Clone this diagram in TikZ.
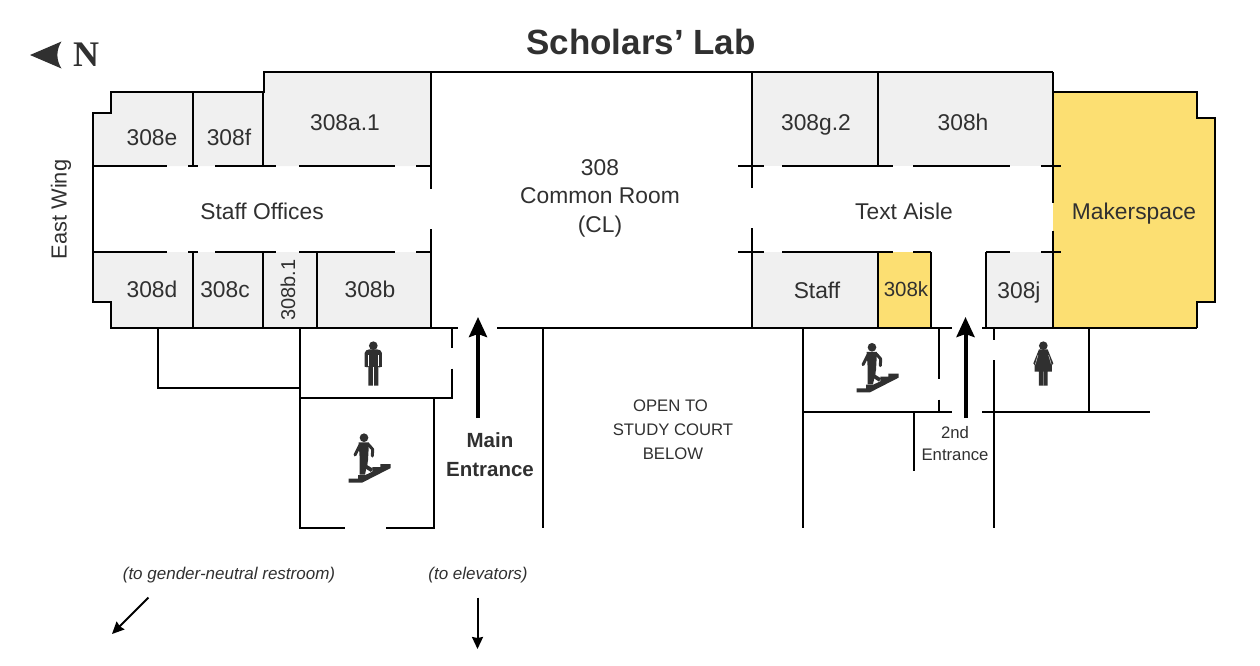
\documentclass[tikz,border=0pt]{standalone}
\usepackage{fontspec}
\setmainfont{Liberation Sans}
\newfontfamily\nfont{Liberation Serif}
\usetikzlibrary{arrows.meta}
\definecolor{ink}{HTML}{303030}
\definecolor{roomgray}{HTML}{F0F0F0}
\definecolor{maker}{HTML}{FCDF72}
\tikzset{
  wall/.style={line width=2.3pt,draw=black,line join=miter},
  thinwall/.style={line width=2pt,draw=black,line join=miter},
  lbl/.style={anchor=base,inner sep=0pt,text=ink,font=\fontsize{22.8}{22.8}\selectfont},
  small/.style={lbl,font=\fontsize{16.7}{16.7}\selectfont},
  ital/.style={lbl,font=\itshape\fontsize{17}{17}\selectfont},
  bigarrow/.style={line width=4pt,draw=black,-{Stealth[length=20pt,width=18pt,inset=3pt]}},
  smallarrow/.style={line width=2pt,draw=black,-{Stealth[length=12pt,width=11pt,inset=1pt]}},
}
\newcommand{\maniconat}[2]{%
  \begin{scope}[shift={(#1,#2)},x=0.3333pt,y=-0.3333pt]
    \fill[ink] (0,0) circle (13);
    \fill[ink] (-26,22) to[out=80,in=180] (-12,11) -- (12,11) to[out=0,in=100] (26,22) -- (26,63) -- (18,65) -- (15,62) -- (15,120) -- (-15,120) -- (-15,62) -- (-18,65) -- (-26,63) -- cycle;
    \draw[white,line width=0.35pt] (0,65) -- (0,120) (-15,28) -- (-15,62) (15,28) -- (15,62);
  \end{scope}}
\newcommand{\womaniconat}[2]{%
  \begin{scope}[shift={(#1,#2)},x=0.3333pt,y=-0.3333pt]
    \fill[ink] (0,0) circle (13);
    \fill[ink] (-13,11) -- (13,11) -- (30,53) -- (26,58) -- (26,78) -- (13,78) -- (13,120) -- (-13,120) -- (-13,78) -- (-26,78) -- (-26,58) -- (-30,53) -- cycle;
    \draw[white,line width=0.35pt] (0,78) -- (0,120) (-16,28) -- (-24,56) (16,28) -- (24,56);
  \end{scope}}
\newcommand{\stairiconat}[2]{%
  \begin{scope}[shift={(#1,#2)},x=0.3333pt,y=-0.3333pt]
    \fill[ink] (0,0) circle (13);
    \fill[ink] (-16,14) -- (15,14) -- (12,68) -- (3,111) -- (-13,111) -- (-13,62) -- cycle;
    \draw[ink,line width=3pt,line cap=round] (-11,20) -- (-27,52);
    \draw[ink,line width=3pt,line cap=round,line join=round] (13,20) -- (26,35) -- (25,55);
    \draw[ink,line width=3.8pt,line join=round] (3,66) -- (5,86) -- (24,98);
    \fill[ink] (-46,135) -- (-6,135) -- (80,91) -- (80,79) -- (49,79) -- (49,88) -- (25,88) -- (25,102) -- (4,112) -- (-18,112) -- (-18,123) -- (-46,123) -- cycle;
  \end{scope}}
\begin{document}
\begin{tikzpicture}[x=1pt,y=-1pt]
\useasboundingbox (0,0) rectangle (1260,665);
% room fills
\fill[roomgray] (93,166) -- (93,113) -- (111,113) -- (111,92) -- (264,92) -- (264,72) -- (431,72) -- (431,166) -- cycle;
\fill[roomgray] (93,252) -- (431,252) -- (431,328) -- (111,328) -- (111,302) -- (93,302) -- cycle;
\fill[roomgray] (752,72) rectangle (1053,166);
\fill[roomgray] (752,252) rectangle (878,328);
\fill[roomgray] (986,252) rectangle (1053,328);
\fill[maker] (878,252) rectangle (931,328);
\fill[maker] (1053,92) -- (1196.5,92) -- (1196.5,118) -- (1214.5,118) -- (1214.5,302) -- (1196.5,302) -- (1196.5,328) -- (1053,328) -- cycle;
% outer walls, upper floor
\draw[wall] (93,166) -- (93,113) -- (111,113) -- (111,92) -- (264,92) -- (264,72) -- (1053,72);
\draw[wall] (93,166) -- (93,302) -- (111,302) -- (111,328) -- (458,328);
\draw[thinwall] (497,327.5) -- (952,327.5);
\draw[thinwall] (982,327.5) -- (1197,327.5);
\draw[thinwall] (1053,92) -- (1196.5,92) -- (1196.5,118) -- (1214.5,118) -- (1214.5,302) -- (1196.5,302) -- (1196.5,328);
% corridor lines, left
\draw[wall] (93,165.7) -- (167,165.7) (188,165.7) -- (198,165.7) (215,165.7) -- (276,165.7) (299,165.7) -- (395,165.7) (416,165.7) -- (431,165.7);
\draw[wall] (93,251.7) -- (167,251.7) (188,251.7) -- (198,251.7) (215,251.7) -- (276,251.7) (299,251.7) -- (395,251.7) (416,251.7) -- (431,251.7);
% corridor lines, right
\draw[wall] (738,165.7) -- (764,165.7) (782,165.7) -- (893,165.7) (913,165.7) -- (1010,165.7) (1041,165.7) -- (1061,165.7);
\draw[wall] (738,251.7) -- (764,251.7) (782,251.7) -- (893,251.7) (913,251.7) -- (931,251.7) (986,251.7) -- (1010,251.7) (1041,251.7) -- (1061,251.7);
% room dividers
\draw[thinwall] (193,92) -- (193,166) (193,252) -- (193,328);
\draw[thinwall] (263.3,92) -- (263.3,166) (263.3,252) -- (263.3,328);
\draw[thinwall] (317,252) -- (317,328);
\draw[thinwall] (430.5,72) -- (430.5,189) (430.5,229) -- (430.5,328);
\draw[thinwall] (752,72) -- (752,188) (752,228) -- (752,328);
\draw[thinwall] (877.7,72) -- (877.7,166) (877.7,252) -- (877.7,328);
\draw[thinwall] (930.7,252) -- (930.7,328);
\draw[thinwall] (986,252) -- (986,328);
\draw[thinwall] (1053,72) -- (1053,203) (1053,230.5) -- (1053,328);
% lower left
\draw[thinwall] (157.5,328) -- (157.5,388) -- (300,388);
\draw[thinwall] (299.5,328) -- (299.5,528) -- (345,528);
\draw[wall] (299.5,398) -- (452.5,398);
\draw[thinwall] (451.7,328) -- (451.7,347.7) (451.7,368.7) -- (451.7,399);
\draw[thinwall] (433.8,398) -- (433.8,528) -- (386,528);
\draw[thinwall] (542.8,328) -- (542.8,528);
% lower right
\draw[thinwall] (803.3,328) -- (803.3,528);
\draw[thinwall] (803.3,411.7) -- (952,411.7) (982,411.7) -- (1150,411.7);
\draw[thinwall] (939,328) -- (939,379) (939,399.5) -- (939,412);
\draw[thinwall] (914.3,412) -- (914.3,471);
\draw[thinwall] (994,328) -- (994,340) (994,360) -- (994,528);
\draw[thinwall] (1088.7,328) -- (1088.7,412);
% arrows
\coordinate (mainTail) at (478,418);
\coordinate (mainTip) at (478,317);
\coordinate (secondTail) at (965.5,418);
\coordinate (secondTip) at (965.5,317);
\coordinate (gnTail) at (148.5,597.5);
\coordinate (gnTip) at (112,634);
\coordinate (elevTail) at (477.5,597.5);
\coordinate (elevTip) at (477.5,649);
\draw[bigarrow] (mainTail) -- (mainTip);
\draw[bigarrow] (secondTail) -- (secondTip);
\draw[smallarrow] (gnTail) -- (gnTip);
\draw[smallarrow] (elevTail) -- (elevTip);
% north
\fill[ink] (30,55) -- (61.5,41.5) .. controls (56,50) and (56,60) .. (61.5,68.5) -- cycle;
\node[lbl,font=\nfont\bfseries\fontsize{36}{36}\selectfont] (north) at (86,66) {N};
% icons
\maniconat{373.3}{345.7}
\womaniconat{1043.3}{345.7}
\stairiconat{364}{437.7}
\stairiconat{872}{347.3}
% labels
\node[lbl,font=\bfseries\fontsize{35}{35}\selectfont] (title) at (641,54.3) {Scholars’ Lab};
\node[lbl] (r308e) at (152,145) {308e};
\node[lbl] (r308f) at (229,145) {308f};
\node[lbl] (r308a) at (345,130.7) {308a.1};
\node[lbl] (staffoff) at (262,219.3) {Staff Offices};
\node[lbl,font=\fontsize{21.8}{21.8}\selectfont,rotate=90] (eastwing) at (66.7,209.5) {East Wing};
\node[lbl] (r308d) at (152,297.7) {308d};
\node[lbl] (r308c) at (225,297.7) {308c};
\node[lbl,font=\fontsize{20}{20}\selectfont,rotate=90] (r308b1) at (295,290) {308b.1};
\node[lbl] (r308b) at (370,297.7) {308b};
\node[lbl] (common1) at (600,175) {308};
\node[lbl] (common2) at (600,203.3) {Common Room};
\node[lbl] (common3) at (600,232) {(CL)};
\node[lbl] (r308g) at (816,130.7) {308g.2};
\node[lbl] (r308h) at (963,130.7) {308h};
\node[lbl] (aisle) at (904,219.3) {Text Aisle};
\node[lbl] (makerspace) at (1134,219.3) {Makerspace};
\node[lbl] (staff) at (817,298) {Staff};
\node[lbl,font=\fontsize{20.5}{20.5}\selectfont] (r308k) at (906,296) {308k};
\node[lbl] (r308j) at (1019,298) {308j};
\node[lbl,font=\bfseries\fontsize{20.5}{20.5}\selectfont] (main1) at (490,447) {Main};
\node[lbl,font=\bfseries\fontsize{20.5}{20.5}\selectfont] (main2) at (490,476) {Entrance};
\node[small] (open1) at (670.5,411.7) {OPEN TO};
\node[small] (open2) at (673,435.7) {STUDY COURT};
\node[small] (open3) at (673,459.3) {BELOW};
\node[small] (second1) at (955,438) {2nd};
\node[small] (second2) at (955,460) {Entrance};
\node[ital] (gn) at (229,579) {(to gender-neutral restroom)};
\node[ital] (elev) at (478,579) {(to elevators)};
\end{tikzpicture}
\end{document}
